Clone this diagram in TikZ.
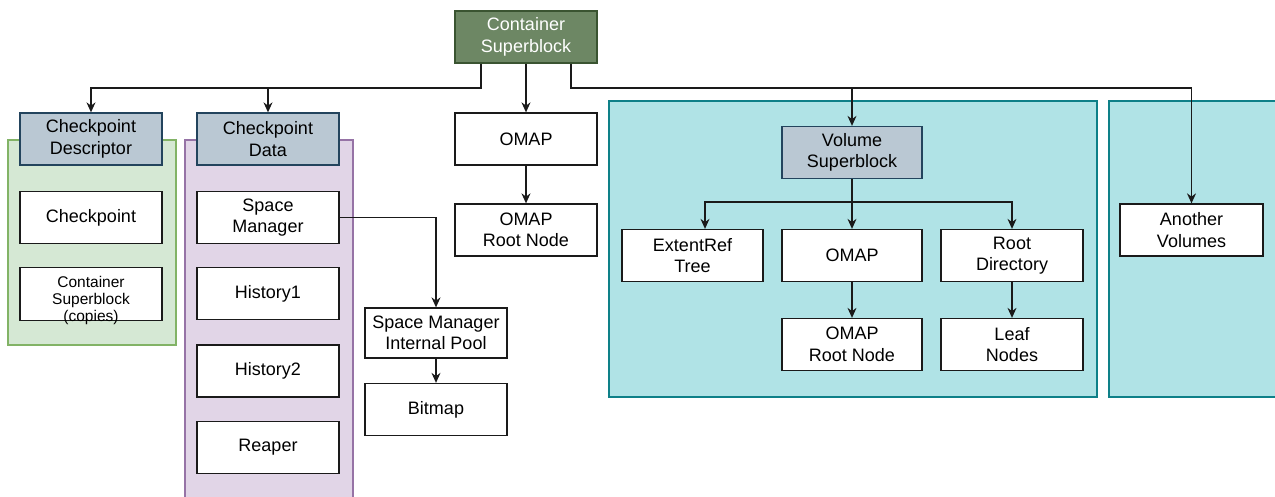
\documentclass[tikz,border=0pt]{standalone}
\usepackage{fontspec}
\setmainfont{Liberation Sans}
\usetikzlibrary{arrows.meta,calc}
\definecolor{cgreenfill}{HTML}{D5E8D4}
\definecolor{cgreenline}{HTML}{82B366}
\definecolor{cpurplefill}{HTML}{E1D5E7}
\definecolor{cpurpleline}{HTML}{9673A6}
\definecolor{ctealfill}{HTML}{B0E3E6}
\definecolor{ctealline}{HTML}{0E8088}
\definecolor{cheadfill}{HTML}{BAC8D3}
\definecolor{cheadline}{HTML}{23445D}
\definecolor{crootfill}{HTML}{6D8764}
\definecolor{crootline}{HTML}{3A5431}
\definecolor{cink}{HTML}{1A1A1A}
\tikzset{
  box/.style={draw=cink, fill=white, line width=1.3pt, minimum width=142pt,
    minimum height=52pt, inner sep=2pt, align=center,
    font=\fontsize{18}{21.5}\selectfont, text=black},
  headbox/.style={box, draw=cheadline, fill=cheadfill},
  rootbox/.style={box, draw=crootline, fill=crootfill, text=white},
  area/.style={line width=1.2pt},
  arr/.style={draw=cink, line width=1.3pt, -{Stealth[length=10pt,width=9pt]}},
}
\begin{document}
\begin{tikzpicture}[x=1pt,y=-1pt]
\useasboundingbox (0,0) rectangle (1275,496);
\clip (0,0) rectangle (1275,496);

% group backgrounds
\path[area, draw=cgreenline, fill=cgreenfill] (8,140) rectangle (176,345);
\path[area, draw=cpurpleline, fill=cpurplefill] (185,140) rectangle (353,510);
\path[area, draw=ctealline, fill=ctealfill] (609,101) rectangle (1097,397);
\path[area, draw=ctealline, fill=ctealfill] (1109,101) rectangle (1290,397);

% container level
\node[rootbox] (cs) at (526,37) {Container\\Superblock};

% checkpoint descriptor area
\node[headbox] (cpd) at (91,139) {Checkpoint\\Descriptor};
\node[box] (ckpt) at (91,217.5) {Checkpoint};
\node[box, font=\fontsize{15.5}{17}\selectfont] (cscopies) at (91,294)
  {\raisebox{-6pt}[\height][\depth]{\parbox{138pt}{\centering Container\\Superblock\\(copies)}}};

% checkpoint data area
\node[headbox] (cpdata) at (268,139) {Checkpoint\\Data};
\node[box] (spm) at (268,217.5) {Space\\Manager};
\node[box] (hist1) at (268,293.5) {History1};
\node[box] (hist2) at (268,371) {History2};
\node[box] (reaper) at (268,447.5) {Reaper};

% space manager chain
\node[box, minimum height=50pt] (pool) at (436,333) {Space Manager\\Internal Pool};
\node[box] (bitmap) at (436,409.5) {Bitmap};

% container object map
\node[box] (omap1) at (526,139) {OMAP};
\node[box] (omaproot1) at (526,230) {OMAP\\Root Node};

% volume
\node[headbox, minimum width=140pt] (vsb) at (852,152.5) {Volume\\Superblock};
\node[box, minimum width=141pt] (ext) at (692.5,255.5) {ExtentRef\\Tree};
\node[box, minimum width=140pt] (omap2) at (852,255.5) {OMAP};
\node[box] (rootdir) at (1012,255.5) {Root\\Directory};
\node[box, minimum width=140pt] (omaproot2) at (852,344.5) {OMAP\\Root Node};
\node[box] (leaf) at (1012,344.5) {Leaf\\Nodes};
\node[box, minimum width=143pt] (another) at (1191.5,230) {Another\\Volumes};

% connectors from the container superblock
\coordinate (busL) at (481,88);
\coordinate (busR) at (571,88);
\draw[arr] (busL |- cs.south) -- (busL) -| (cpd.north);
\draw[arr] (busL) -| (cpdata.north);
\draw[arr] (cs) -- (omap1);
\draw[arr] (busR |- cs.south) -- (busR) -| (vsb.north);
\draw[arr] (vsb.north |- busR) -| (another.north);

\draw[arr] (omap1) -- (omaproot1);
\draw[arr] (spm.east) -| (pool.north);
\draw[arr] (pool) -- (bitmap);

% volume superblock fan-out
\coordinate (vbus) at (852,202);
\draw[arr] (vsb) -- (omap2);
\draw[arr] (vbus) -| ([xshift=12.5pt]ext.north);
\draw[arr] (vbus) -| (rootdir.north);
\draw[arr] (omap2) -- (omaproot2);
\draw[arr] (rootdir) -- (leaf);
\end{tikzpicture}
\end{document}
